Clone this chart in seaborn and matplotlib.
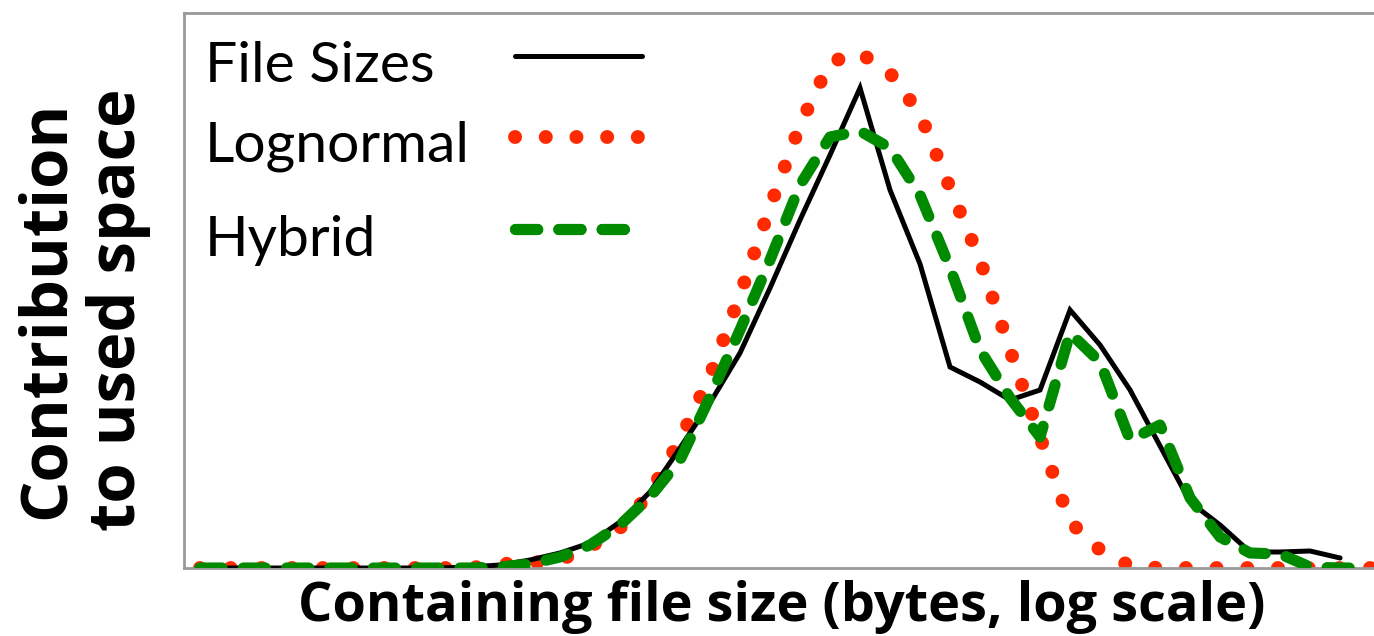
import numpy as np
import pandas as pd
import matplotlib
matplotlib.use("Agg")
import matplotlib.pyplot as plt
import seaborn as sns

# Bin index along the log-scaled file-size axis
bins = list(range(40))

file_sizes = [0, 0, 0, 0, 0, 0, 0, 0, 0, 1,
              3, 8, 15, 25, 46, 76, 120, 165, 215, 280,
              348, 413, 480, 378, 304, 201, 186, 168, 178, 258,
              223, 178, 122, 66, 43, 16, 16, 17, 10]

lognormal = [0, 0, 0, 0, 0, 0, 0, 0, 0, 0,
             4, 5, 8, 21, 40, 75, 128, 192, 273, 361,
             443, 506, 515, 495, 454, 380, 308, 218, 131, 46,
             18, 2, 0, 0, 0, 0, 0, 0, 0, 0]

hybrid = [0, 0, 0, 0, 0, 0, 0, 0, 0, 0,
          1, 4, 11, 23, 43, 71, 108, 171, 238, 308,
          383, 431, 437, 420, 373, 300, 218, 170, 131, 235,
          206, 128, 143, 70, 31, 15, 14, 1, 0, 0]

labels = ["File Sizes", "Lognormal", "Hybrid"]
colors = ["#000000", "#FF2A00", "#008A00"]

sns.set_style("white")
plt.rcParams["font.family"] = ["Lato", "DejaVu Sans"]
plt.rcParams["text.color"] = "black"
plt.rcParams["axes.labelcolor"] = "black"

W, H = 1374, 636
fig = plt.figure(figsize=(W / 100, H / 100), dpi=100)
ax_l, ax_r, ax_t, ax_b = 184, 1374, 13, 568
ax = fig.add_axes([ax_l / W, 1 - ax_b / H, (ax_r - ax_l) / W, (ax_b - ax_t) / H])

def ax_x(px):
    return (px - ax_l) / (ax_r - ax_l)

def ax_y(py):
    return (ax_b - py) / (ax_b - ax_t)

df_fs = pd.DataFrame({"bin": bins[:len(file_sizes)], "v": file_sizes})
df_ln = pd.DataFrame({"bin": bins, "v": lognormal})
df_hy = pd.DataFrame({"bin": bins, "v": hybrid})

sns.lineplot(data=df_fs, x="bin", y="v", ax=ax, color=colors[0], lw=3.6,
             solid_capstyle="round", solid_joinstyle="miter", zorder=3)
sns.lineplot(data=df_ln, x="bin", y="v", ax=ax, color=colors[1], lw=10,
             linestyle=(0, (0.01, 2.2)), dash_capstyle="round", zorder=2)
sns.lineplot(data=df_hy, x="bin", y="v", ax=ax, color=colors[2], lw=8,
             linestyle=(0, (2.0, 1.9)), dash_capstyle="round", zorder=4)

line_handles = ax.get_lines()[:3]

ax.set_xlim(-0.53, 39.13)
ax.set_ylim(0, 555)
ax.set_xticks([])
ax.set_yticks([])

for s in ["top", "left", "bottom"]:
    ax.spines[s].set_color("#999999")
    ax.spines[s].set_linewidth(2)
ax.spines["right"].set_visible(False)

ax.set_xlabel("Containing file size (bytes, log scale)", fontsize=39,
              fontweight="bold", family=["Open Sans", "DejaVu Sans"])
ax.xaxis.label.set_va("center")
ax.xaxis.set_label_coords(0.502, ax_y(607))

ax.set_ylabel("Contribution\nto used space", fontsize=47, fontweight="bold",
              family=["Open Sans", "DejaVu Sans"], linespacing=1.14)
ax.yaxis.label.set_va("center")
ax.yaxis.set_label_coords(ax_x(83), ax_y(310))

# Legend: labels on the left, line samples on the right
text_baselines = [82, 161, 256]
handle_centers = [57, 138, 230]
for h, lab, tb, hc in zip(line_handles, labels, text_baselines, handle_centers):
    ax.text(ax_x(205), ax_y(tb), lab, transform=ax.transAxes, fontsize=41,
            ha="left", va="baseline", color="black")
    lg = ax.legend([h], [""], loc="center left",
                   bbox_to_anchor=(ax_x(515), ax_y(hc)), frameon=False,
                   fontsize=10, handlelength=127 / 13.9, handletextpad=0,
                   borderpad=0, borderaxespad=0)
    ax.add_artist(lg)

fig.savefig("out.png", dpi=100)
